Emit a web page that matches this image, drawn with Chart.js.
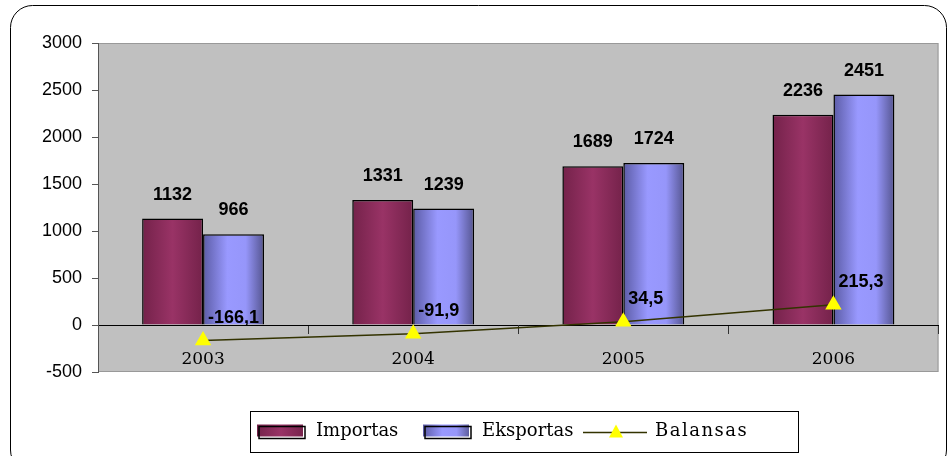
<!DOCTYPE html>
<html>
<head>
<meta charset="utf-8">
<script src="https://cdn.jsdelivr.net/npm/chart.js@4/dist/chart.umd.min.js"></script>
<style>
  html, body { margin: 0; padding: 0; background: #fff; }
  #wrap { width: 948px; height: 456px; }
</style>
</head>
<body>
<div id="wrap"><canvas id="c" width="948" height="456"></canvas></div>
<script>
// chart data
const years = ['2003', '2004', '2005', '2006'];
const importas = [1132, 1331, 1689, 2236];
const eksportas = [966, 1239, 1724, 2451];
const balansas = [-166.1, -91.9, 34.5, 215.3];
const yTicks = [-500, 0, 500, 1000, 1500, 2000, 2500, 3000];

const CAT_PCT = 0.58;

// comma decimals, like the source
function fmt(v) {
  return String(v).replace('.', ',');
}

// horizontal shading across one bar
function barGradient(ctx, stops) {
  const chart = ctx.chart;
  const xs = chart.scales.x;
  if (!xs || !chart.chartArea || ctx.dataIndex === undefined) return stops[1][1];
  const cw = xs.width / years.length;
  const bw = cw * CAT_PCT / 2;
  const center = xs.getPixelForValue(ctx.dataIndex);
  const left = ctx.datasetIndex === 0 ? center - bw : center;
  const g = chart.ctx.createLinearGradient(left, 0, left + bw, 0);
  stops.forEach(s => g.addColorStop(s[0], s[1]));
  return g;
}

const impStops = [[0, '#74224a'], [0.5, '#993366'], [1, '#74224a']];
const ekStops = [[0, '#5c5ca6'], [0.4, '#9999ff'], [0.7, '#9696fa'], [1, '#555590']];

// plot background, outer frame
const backdrop = {
  id: 'backdrop',
  beforeDraw(chart) {
    const c = chart.ctx;
    const a = chart.chartArea;
    c.save();
    c.fillStyle = '#fff';
    c.fillRect(0, 0, chart.width, chart.height);
    // rounded outer frame
    c.strokeStyle = '#000';
    c.lineWidth = 1;
    const r = 22, x0 = 10.5, y0 = 5.5, x1 = 946.5, y1 = 472;
    c.beginPath();
    c.moveTo(x0 + r, y0);
    c.lineTo(x1 - r, y0);
    c.arcTo(x1, y0, x1, y0 + r, r);
    c.lineTo(x1, y1 - r);
    c.arcTo(x1, y1, x1 - r, y1, r);
    c.lineTo(x0 + r, y1);
    c.arcTo(x0, y1, x0, y1 - r, r);
    c.lineTo(x0, y0 + r);
    c.arcTo(x0, y0, x0 + r, y0, r);
    c.stroke();
    // plot area
    c.fillStyle = '#c0c0c0';
    c.fillRect(a.left, a.top, a.right - a.left, a.bottom - a.top);
    c.strokeStyle = '#999';
    c.strokeRect(a.left + 0.5, a.top + 0.5, a.right - a.left - 1, a.bottom - a.top - 1);
    c.restore();
  }
};

// value labels above bars and line points
const valueLabels = {
  id: 'valueLabels',
  afterDatasetsDraw(chart) {
    const c = chart.ctx;
    c.save();
    c.font = 'bold 18px "Liberation Sans", Arial, sans-serif';
    c.fillStyle = '#000';
    c.textBaseline = 'middle';
    chart.data.datasets.forEach((ds, di) => {
      const meta = chart.getDatasetMeta(di);
      meta.data.forEach((el, i) => {
        const v = ds.data[i];
        if (ds.type === 'line') {
          c.textAlign = 'left';
          c.fillText(fmt(v), el.x + 5, el.y - 23);
        } else {
          c.textAlign = 'center';
          c.fillText(fmt(v), el.x, el.y - 24);
        }
      });
    });
    c.restore();
  }
};

// boxed legend under the plot
const boxLegend = {
  id: 'boxLegend',
  afterDraw(chart) {
    const c = chart.ctx;
    const left = 250, top = 411, w = 548, h = 41;
    const cy = top + h / 2;
    const slots = [257, 423, 583]; // where each key starts
    c.save();
    c.fillStyle = '#fff';
    c.fillRect(left, top, w, h);
    c.strokeStyle = '#000';
    c.lineWidth = 1;
    c.strokeRect(left + 0.5, top + 0.5, w, h);
    c.font = '18px "DejaVu Serif", serif';
    c.textBaseline = 'middle';
    c.textAlign = 'left';
    const swatch = (x, stops) => {
      const g = c.createLinearGradient(x, 0, x + 48, 0);
      stops.forEach(s => g.addColorStop(s[0], s[1]));
      c.fillStyle = g;
      c.fillRect(x, cy - 7, 46, 12);
      c.strokeStyle = '#000';
      c.lineWidth = 1.5;
      c.strokeRect(x + 2, cy - 5, 46, 12);
    };
    chart.data.datasets.forEach((ds, i) => {
      let x = slots[i];
      if (ds.type === 'line') {
        c.strokeStyle = ds.borderColor;
        c.lineWidth = 1.5;
        c.beginPath();
        c.moveTo(x, cy + 1);
        c.lineTo(x + 64, cy + 1);
        c.stroke();
        c.fillStyle = ds.pointBackgroundColor;
        c.beginPath();
        c.moveTo(x + 33, cy - 7);
        c.lineTo(x + 40, cy + 6);
        c.lineTo(x + 26, cy + 6);
        c.closePath();
        c.fill();
        x += 72;
        c.fillStyle = '#000';
        c.letterSpacing = '1.5px';
        c.fillText(ds.label, x, cy);
        c.letterSpacing = '0px';
      } else {
        swatch(x, ds.label === 'Importas' ? impStops : ekStops);
        x += 59;
        c.fillStyle = '#000';
        c.fillText(ds.label, x, cy);
      }
    });
    c.restore();
  }
};

new Chart(document.getElementById('c'), {
  data: {
    labels: years,
    datasets: [
      {
        type: 'bar',
        label: 'Importas',
        data: importas,
        backgroundColor: (ctx) => barGradient(ctx, impStops),
        borderColor: '#000',
        borderWidth: 1.5,
        categoryPercentage: CAT_PCT,
        barPercentage: 1.0,
        order: 2
      },
      {
        type: 'bar',
        label: 'Eksportas',
        data: eksportas,
        backgroundColor: (ctx) => barGradient(ctx, ekStops),
        borderColor: '#000',
        borderWidth: 1.5,
        categoryPercentage: CAT_PCT,
        barPercentage: 1.0,
        order: 2
      },
      {
        type: 'line',
        label: 'Balansas',
        data: balansas,
        borderColor: '#333300',
        borderWidth: 1.5,
        pointStyle: 'triangle',
        pointRadius: 8,
        pointBackgroundColor: '#ffff00',
        pointBorderColor: '#ffff00',
        tension: 0,
        order: 1
      }
    ]
  },
  options: {
    responsive: false,
    animation: false,
    layout: {
      padding: { left: 0, right: 6, top: 43, bottom: 84 }
    },
    scales: {
      x: {
        position: { y: 0 },
        offset: true,
        grid: {
          offset: true,
          drawOnChartArea: false,
          drawTicks: true,
          tickLength: 8,
          color: '#333'
        },
        border: { color: '#000', width: 1 },
        ticks: {
          color: '#000',
          padding: 16,
          font: { family: '"DejaVu Serif", serif', size: 17 }
        }
      },
      y: {
        min: -500,
        max: 3000,
        afterBuildTicks: (s) => { s.ticks = yTicks.map(v => ({ value: v })); },
        afterFit: (s) => { s.width = 98; },
        grid: {
          drawOnChartArea: false,
          tickLength: 6,
          color: '#555'
        },
        border: { color: '#555', width: 1 },
        ticks: {
          color: '#000',
          padding: 10,
          font: { family: '"Liberation Sans", Arial, sans-serif', size: 18 },
          callback: (v) => String(v)
        }
      }
    },
    plugins: {
      legend: { display: false },
      tooltip: { enabled: false }
    }
  },
  plugins: [backdrop, valueLabels, boxLegend]
});
</script>
</body>
</html>
